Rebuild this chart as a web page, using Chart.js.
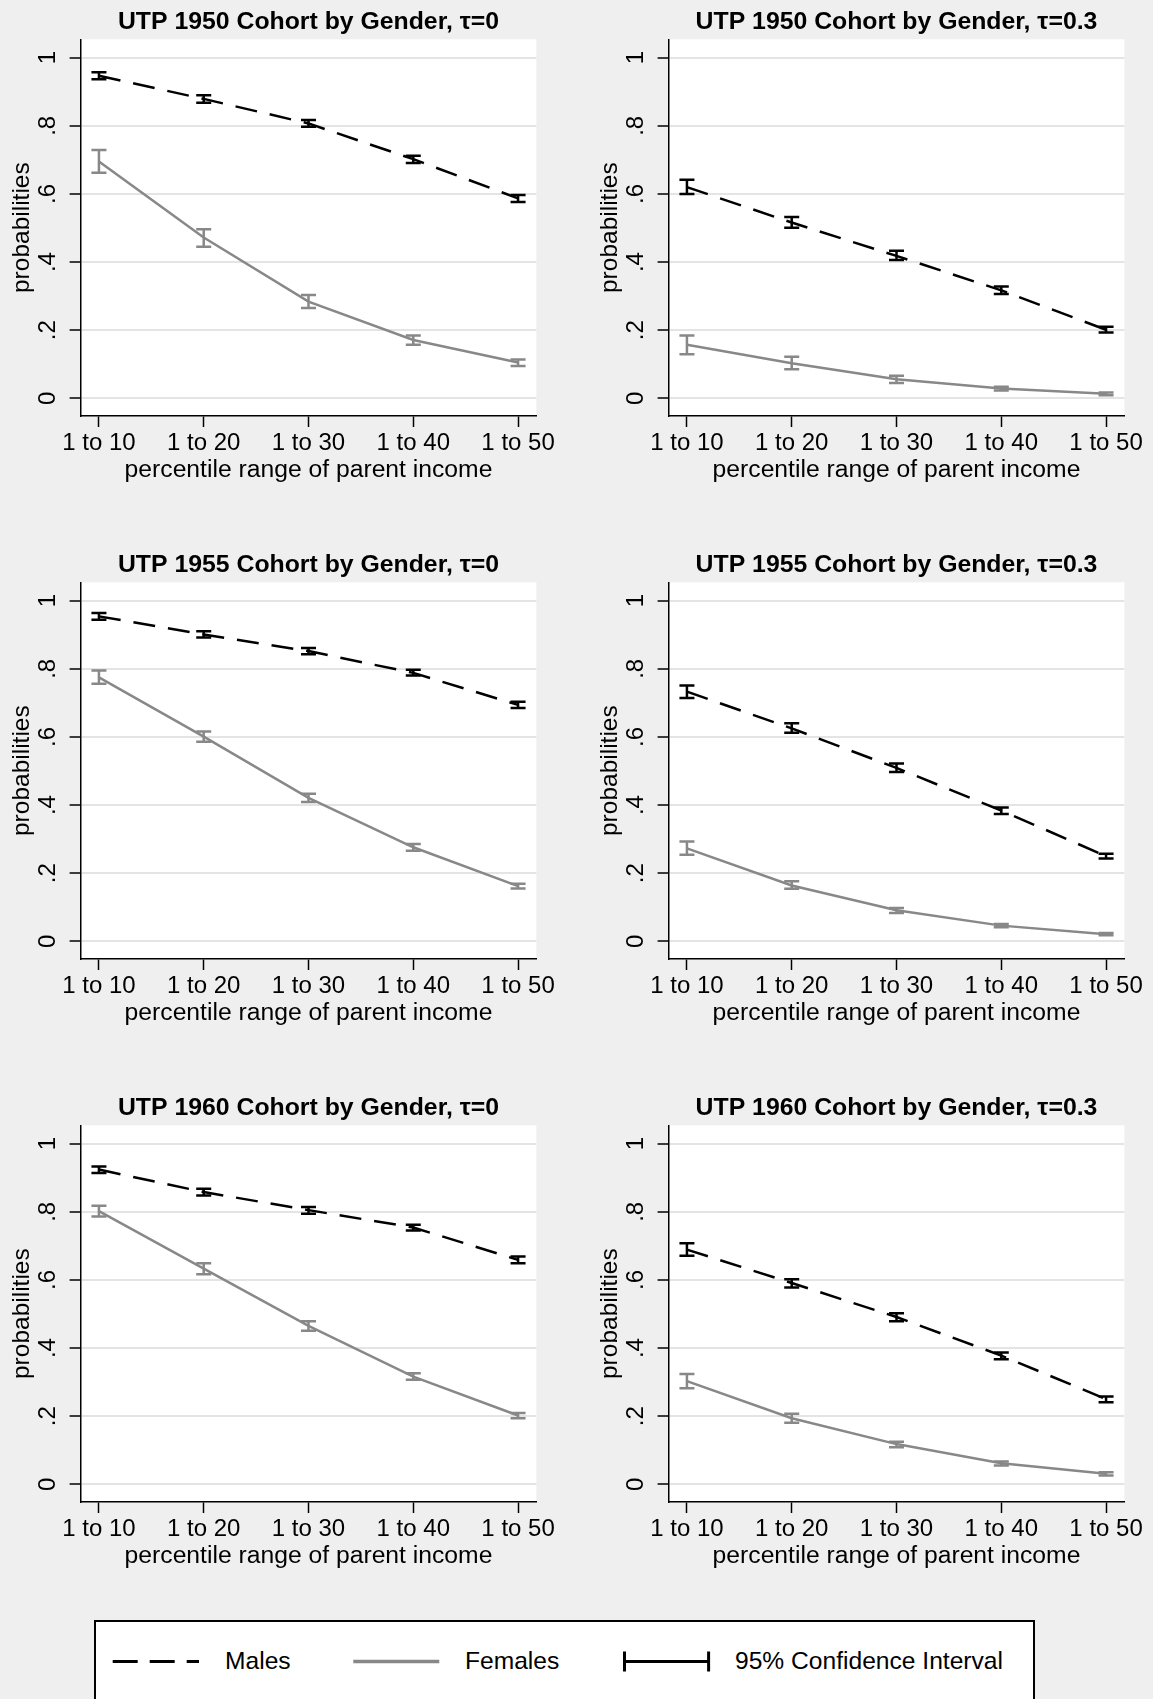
<!DOCTYPE html>
<html>
<head>
<meta charset="utf-8">
<script src="https://cdn.jsdelivr.net/npm/chart.js@4.4.1/dist/chart.umd.min.js"></script>
<style>
  body { margin: 0; background: #efefef; width: 1153px; height: 1699px; overflow: hidden; position: relative;
         font-family: "Liberation Sans", Arial, Helvetica, sans-serif; }
  canvas { position: absolute; }
  #legend { position: absolute; left: 94px; top: 1620px; width: 941px; height: 120px; box-sizing: border-box;
            border: 2px solid #000; background: #fff; }
  #legend svg { position: absolute; left: 0; top: 0; }
  #legend span { position: absolute; top: 27px; font-size: 24.6px; line-height: 24px; color: #000; white-space: nowrap; }
</style>
</head>
<body>
<canvas id="p1" width="565" height="543" style="left:0px;top:0px"></canvas>
<canvas id="p2" width="565" height="543" style="left:588px;top:0px"></canvas>
<canvas id="p3" width="565" height="543" style="left:0px;top:543px"></canvas>
<canvas id="p4" width="565" height="543" style="left:588px;top:543px"></canvas>
<canvas id="p5" width="565" height="543" style="left:0px;top:1086px"></canvas>
<canvas id="p6" width="565" height="543" style="left:588px;top:1086px"></canvas>

<div id="legend">
  <svg width="937" height="116">
    <line x1="16.7" y1="39.5" x2="103" y2="39.5" stroke="#000" stroke-width="3" stroke-dasharray="25 12"/>
    <line x1="257.3" y1="39.5" x2="343.3" y2="39.5" stroke="#888" stroke-width="3.5"/>
    <line x1="527.5" y1="39.5" x2="613.6" y2="39.5" stroke="#000" stroke-width="3"/>
    <line x1="528.5" y1="29.5" x2="528.5" y2="49.5" stroke="#000" stroke-width="3"/>
    <line x1="612.6" y1="29.5" x2="612.6" y2="49.5" stroke="#000" stroke-width="3"/>
  </svg>
  <span style="left:129px">Males</span>
  <span style="left:369px">Females</span>
  <span style="left:639px">95% Confidence Interval</span>
</div>

<script>
// categories on the x axis
var categories = ['1 to 10', '1 to 20', '1 to 30', '1 to 40', '1 to 50'];
var yTickValues = [0, 0.2, 0.4, 0.6, 0.8, 1];
var yTickLabels = ['0', '.2', '.4', '.6', '.8', '1'];
var grayColor = '#888888';

// 1950 cohort, tau = 0
var m1950a   = [0.947, 0.879, 0.807, 0.702, 0.587];
var m1950aLo = [0.937, 0.868, 0.797, 0.691, 0.576];
var m1950aHi = [0.957, 0.890, 0.817, 0.712, 0.597];
var f1950a   = [0.695, 0.472, 0.284, 0.171, 0.105];
var f1950aLo = [0.662, 0.445, 0.265, 0.157, 0.095];
var f1950aHi = [0.729, 0.496, 0.303, 0.184, 0.114];

// 1950 cohort, tau = 0.3
var m1950b   = [0.620, 0.516, 0.418, 0.317, 0.201];
var m1950bLo = [0.600, 0.501, 0.406, 0.306, 0.193];
var m1950bHi = [0.642, 0.532, 0.433, 0.328, 0.210];
var f1950b   = [0.157, 0.103, 0.056, 0.029, 0.013];
var f1950bLo = [0.129, 0.085, 0.045, 0.023, 0.009];
var f1950bHi = [0.184, 0.122, 0.066, 0.034, 0.017];

// 1955 cohort, tau = 0
var m1955a   = [0.954, 0.901, 0.852, 0.788, 0.694];
var m1955aLo = [0.944, 0.892, 0.843, 0.780, 0.685];
var m1955aHi = [0.964, 0.910, 0.861, 0.797, 0.703];
var f1955a   = [0.775, 0.601, 0.421, 0.276, 0.162];
var f1955aLo = [0.756, 0.586, 0.409, 0.266, 0.155];
var f1955aHi = [0.795, 0.616, 0.433, 0.286, 0.169];

// 1955 cohort, tau = 0.3
var m1955b   = [0.733, 0.625, 0.509, 0.384, 0.250];
var m1955bLo = [0.714, 0.612, 0.497, 0.374, 0.243];
var m1955bHi = [0.751, 0.640, 0.522, 0.393, 0.257];
var f1955b   = [0.273, 0.164, 0.091, 0.046, 0.021];
var f1955bLo = [0.254, 0.154, 0.083, 0.041, 0.018];
var f1955bHi = [0.293, 0.176, 0.098, 0.051, 0.024];

// 1960 cohort, tau = 0
var m1960a   = [0.924, 0.858, 0.805, 0.754, 0.659];
var m1960aLo = [0.914, 0.848, 0.794, 0.745, 0.649];
var m1960aHi = [0.933, 0.868, 0.814, 0.762, 0.669];
var f1960a   = [0.802, 0.633, 0.465, 0.316, 0.202];
var f1960aLo = [0.786, 0.617, 0.451, 0.307, 0.194];
var f1960aHi = [0.818, 0.649, 0.479, 0.326, 0.209];

// 1960 cohort, tau = 0.3
var m1960b   = [0.689, 0.591, 0.491, 0.378, 0.250];
var m1960bLo = [0.671, 0.578, 0.479, 0.367, 0.241];
var m1960bHi = [0.708, 0.602, 0.502, 0.387, 0.258];
var f1960b   = [0.303, 0.194, 0.118, 0.062, 0.031];
var f1960bLo = [0.282, 0.181, 0.109, 0.055, 0.026];
var f1960bHi = [0.324, 0.207, 0.125, 0.067, 0.035];

Chart.defaults.font.family = '"Liberation Sans", Arial, Helvetica, sans-serif';
Chart.defaults.color = '#000';

// white plot region
var plotBg = {
  id: 'plotBg',
  beforeDraw: function(chart) {
    var a = chart.chartArea, ctx = chart.ctx;
    ctx.save();
    ctx.fillStyle = '#fff';
    ctx.fillRect(a.left, a.top, a.right - a.left, a.bottom - a.top);
    ctx.restore();
  }
};

// capped confidence interval bars
var errorBars = {
  id: 'errorBars',
  afterDatasetsDraw: function(chart) {
    var ctx = chart.ctx, xs = chart.scales.x, ys = chart.scales.y;
    chart.data.datasets.forEach(function(ds) {
      ctx.save();
      ctx.strokeStyle = ds.borderColor;
      ctx.lineWidth = 2.5;
      ds.ciLow.forEach(function(lo, i) {
        var x = xs.getPixelForValue(i);
        var y1 = ys.getPixelForValue(lo);
        var y2 = ys.getPixelForValue(ds.ciHigh[i]);
        ctx.beginPath();
        ctx.moveTo(x, y1); ctx.lineTo(x, y2);
        ctx.moveTo(x - 7.5, y1); ctx.lineTo(x + 7.5, y1);
        ctx.moveTo(x - 7.5, y2); ctx.lineTo(x + 7.5, y2);
        ctx.stroke();
      });
      ctx.restore();
    });
  }
};

// title centred over the plot region
var panelTitle = {
  id: 'panelTitle',
  afterDraw: function(chart, args, opts) {
    var a = chart.chartArea, ctx = chart.ctx;
    ctx.save();
    ctx.font = 'bold 24.8px "Liberation Sans", Arial, Helvetica, sans-serif';
    ctx.fillStyle = '#000';
    ctx.textAlign = 'center';
    ctx.textBaseline = 'middle';
    ctx.fillText(opts.text, (a.left + a.right) / 2, 21.7);
    ctx.restore();
  }
};

function toPoints(arr) {
  return arr.map(function(v, i) { return {x: i, y: v}; });
}

function makePanel(id, title, m, mLo, mHi, f, fLo, fHi) {
  var ctx = document.getElementById(id).getContext('2d');
  return new Chart(ctx, {
    type: 'line',
    data: {
      datasets: [
        { label: 'Males', data: toPoints(m), ciLow: mLo, ciHigh: mHi,
          borderColor: '#000', borderWidth: 2.5, borderDash: [22, 13], pointRadius: 0, fill: false },
        { label: 'Females', data: toPoints(f), ciLow: fLo, ciHigh: fHi,
          borderColor: grayColor, borderWidth: 2.5, pointRadius: 0, fill: false }
      ]
    },
    options: {
      responsive: false,
      animation: false,
      layout: { padding: { left: 0, right: 28.6, top: 39.3, bottom: 57 } },
      plugins: {
        legend: { display: false },
        tooltip: { enabled: false },
        panelTitle: { text: title }
      },
      scales: {
        x: {
          type: 'linear', min: -0.175, max: 4.175,
          afterBuildTicks: function(s) { s.ticks = categories.map(function(c, i) { return {value: i}; }); },
          afterFit: function(s) { s.height = 70; },
          ticks: { callback: function(v) { return categories[v]; }, font: { size: 24 }, color: '#000',
                   padding: 2, maxRotation: 0, autoSkip: false },
          grid: { drawOnChartArea: false, drawTicks: true, tickLength: 11, tickColor: '#000', tickWidth: 1.5 },
          border: { display: true, color: '#000', width: 1.5 },
          title: { display: true, text: 'percentile range of parent income', font: { size: 24.7 }, color: '#000',
                   padding: { top: 0, bottom: 1 } }
        },
        y: {
          min: -0.052, max: 1.054,
          afterBuildTicks: function(s) { s.ticks = yTickValues.map(function(v) { return {value: v}; }); },
          afterFit: function(s) { s.width = 80.6; },
          ticks: { callback: function(v) { return yTickLabels[yTickValues.indexOf(v)]; }, minRotation: 90, maxRotation: 90,
                   crossAlign: 'center', padding: 11.6, font: { size: 24 }, color: '#000' },
          grid: { color: '#e4e4e4', lineWidth: 2, tickLength: 11, tickColor: '#000', tickWidth: 1.5 },
          border: { display: true, color: '#000', width: 1.5 },
          title: { display: true, text: 'probabilities', font: { size: 24.5 }, color: '#000',
                   padding: { top: 8, bottom: 0 } }
        }
      }
    },
    plugins: [plotBg, errorBars, panelTitle]
  });
}

makePanel('p1', 'UTP 1950 Cohort by Gender, τ=0',   m1950a, m1950aLo, m1950aHi, f1950a, f1950aLo, f1950aHi);
makePanel('p2', 'UTP 1950 Cohort by Gender, τ=0.3', m1950b, m1950bLo, m1950bHi, f1950b, f1950bLo, f1950bHi);
makePanel('p3', 'UTP 1955 Cohort by Gender, τ=0',   m1955a, m1955aLo, m1955aHi, f1955a, f1955aLo, f1955aHi);
makePanel('p4', 'UTP 1955 Cohort by Gender, τ=0.3', m1955b, m1955bLo, m1955bHi, f1955b, f1955bLo, f1955bHi);
makePanel('p5', 'UTP 1960 Cohort by Gender, τ=0',   m1960a, m1960aLo, m1960aHi, f1960a, f1960aLo, f1960aHi);
makePanel('p6', 'UTP 1960 Cohort by Gender, τ=0.3', m1960b, m1960bLo, m1960bHi, f1960b, f1960bLo, f1960bHi);
</script>
</body>
</html>
